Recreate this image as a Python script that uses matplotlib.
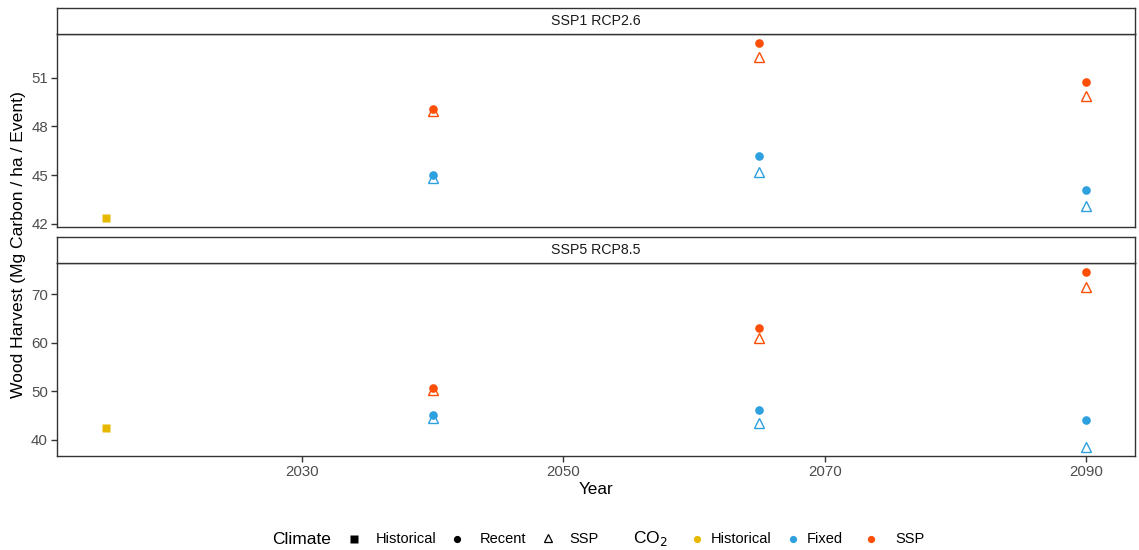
import matplotlib
matplotlib.use("Agg")
import matplotlib.pyplot as plt
from matplotlib.lines import Line2D

plt.rcParams['font.family'] = ['Liberation Sans', 'DejaVu Sans']

# ---- data -------------------------------------------------------------
hist_year = 2015
proj_years = [2040, 2065, 2090]
panels = ["SSP1 RCP2.6", "SSP5 RCP8.5"]

ssp1_hist = 42.34
ssp1_recent_fixed = [45.0, 46.17, 44.07]
ssp1_ssp_fixed = [44.8, 45.2, 43.08]
ssp1_recent_ssp = [49.08, 53.16, 50.75]
ssp1_ssp_ssp = [48.95, 52.3, 49.9]

ssp5_hist = 42.4
ssp5_recent_fixed = [45.1, 46.1, 44.05]
ssp5_ssp_fixed = [44.5, 43.4, 38.5]
ssp5_recent_ssp = [50.68, 63.0, 74.6]
ssp5_ssp_ssp = [50.3, 60.9, 71.4]

y_ticks = [[42, 45, 48, 51], [40, 50, 60, 70]]
x_ticks = [2030, 2050, 2070, 2090]

co2_colors = {"Historical": "#E7B800", "Fixed": "#2E9FDF", "SSP": "#FC4E07"}

# ---- figure -----------------------------------------------------------
W, H = 1139, 550
fig = plt.figure(figsize=(W / 100, H / 100), dpi=100)


def frac(x0, y0, x1, y1):
    return [x0 / W, 1 - y1 / H, (x1 - x0) / W, (y1 - y0) / H]


panel_px = [(57, 34, 1135, 227), (57, 263, 1135, 456)]
strip_h = 26
border = "#333333"

data = [
    (ssp1_hist, ssp1_recent_fixed, ssp1_ssp_fixed, ssp1_recent_ssp, ssp1_ssp_ssp),
    (ssp5_hist, ssp5_recent_fixed, ssp5_ssp_fixed, ssp5_recent_ssp, ssp5_ssp_ssp),
]

axes = []
for i, (x0, y0, x1, y1) in enumerate(panel_px):
    ax = fig.add_axes(frac(x0, y0, x1, y1))
    hist, rf, sf, rs, ss = data[i]
    ax.plot([hist_year], [hist], ls="none", marker="s", ms=5.6,
            color=co2_colors["Historical"], mec="none")
    ax.plot(proj_years, rf, ls="none", marker="o", ms=6.2,
            color=co2_colors["Fixed"], mec="none")
    ax.plot(proj_years, rs, ls="none", marker="o", ms=6.2,
            color=co2_colors["SSP"], mec="none")
    ax.plot(proj_years, sf, ls="none", marker="^", ms=7,
            mfc="none", mec=co2_colors["Fixed"], mew=1.0)
    ax.plot(proj_years, ss, ls="none", marker="^", ms=7,
            mfc="none", mec=co2_colors["SSP"], mew=1.0)
    ax.margins(x=0.05, y=0.05)
    ax.set_xlim(2015 - 3.75, 2090 + 3.75)
    ax.set_yticks(y_ticks[i])
    ax.set_xticks(x_ticks)
    for s in ax.spines.values():
        s.set_color(border)
        s.set_linewidth(1.0)
    ax.tick_params(axis="both", direction="out", length=4, width=1.0,
                   color=border, labelcolor="#4D4D4D", labelsize=10.8, pad=2.5)
    if i == 0:
        ax.tick_params(axis="x", bottom=False, labelbottom=False)
    # facet strip
    sax = fig.add_axes(frac(x0, y0 - strip_h, x1, y0))
    sax.set_xticks([])
    sax.set_yticks([])
    for s in sax.spines.values():
        s.set_color(border)
        s.set_linewidth(1.0)
    sax.text(0.5, 0.5, panels[i], ha="center", va="center", fontsize=10.2,
             color="#1A1A1A", transform=sax.transAxes)
    axes.append(ax)

fig.text(19 / W, 1 - 245 / H, "Wood Harvest (Mg Carbon / ha / Event)",
         rotation=90, ha="center", va="center", fontsize=12.6)
fig.text(596 / W, 1 - 489 / H, "Year", ha="center", va="center", fontsize=12.3)

# ---- legend row -------------------------------------------------------
ly = 1 - 539 / H
fig.text(272 / W, ly, "Climate", ha="left", va="center", fontsize=12.5)
climate_keys = [("s", "Historical", 354, 376), ("o", "Recent", 457, 480),
                ("^", "SSP", 548, 569)]
for mk, lab, kx, tx in climate_keys:
    if mk == "^":
        h = Line2D([kx / W], [ly + 1.5 / H], transform=fig.transFigure, ls="none",
                   marker=mk, ms=6, mfc="none", mec="black", mew=0.9)
    else:
        h = Line2D([kx / W], [ly], transform=fig.transFigure, ls="none",
                   marker=mk, ms=5.2, color="black", mec="none")
    fig.add_artist(h)
    fig.text(tx / W, ly, lab, ha="left", va="center", fontsize=10.5)

fig.text(633 / W, ly, r"CO$_2$", ha="left", va="center", fontsize=12.5)
co2_keys = [("Historical", 697, 711), ("Fixed", 793, 807), ("SSP", 871, 895)]
for lab, kx, tx in co2_keys:
    h = Line2D([kx / W], [ly], transform=fig.transFigure, ls="none",
               marker="o", ms=5.2, color=co2_colors[lab], mec="none")
    fig.add_artist(h)
    fig.text(tx / W, ly, lab, ha="left", va="center", fontsize=10.5)

fig.savefig("out.png", dpi=100)
